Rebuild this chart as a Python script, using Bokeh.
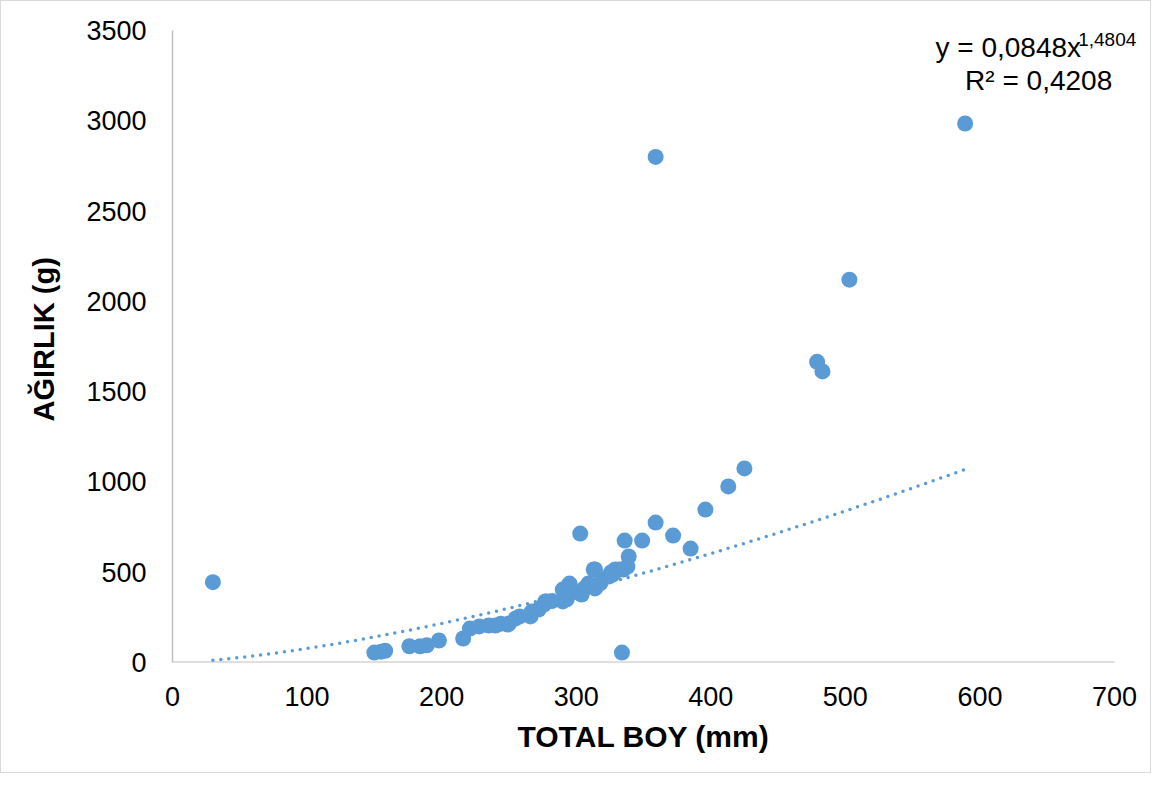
import numpy as np
from bokeh.plotting import figure
from bokeh.models import Label, FixedTicker, Range1d, Title
from bokeh.embed import file_html
from bokeh.resources import INLINE

# Data: total length (mm) and weight (g)
total_boy = [30, 150, 155, 158, 176, 184, 189, 198, 216, 221, 228, 235, 240, 244, 249,
             250, 255, 258, 266, 267, 272, 276, 277, 278, 282, 290, 290, 291, 293, 295,
             295, 298, 303, 304, 304, 306, 309, 313, 314, 314, 318, 319, 324, 326, 327,
             329, 332, 334, 335, 336, 338, 339, 349, 359, 359, 372, 385, 396, 413, 425,
             479, 483, 503, 589]
agirlik = [445, 55, 60, 65, 90, 90, 95, 122, 133, 188, 200, 205, 205, 215, 210,
           216, 244, 255, 255, 282, 293, 320, 338, 338, 340, 338, 404, 404, 350, 437,
           432, 390, 714, 376, 382, 410, 437, 515, 410, 515, 440, 460, 476, 500, 487,
           515, 515, 55, 515, 675, 531, 587, 675, 775, 2800, 703, 631, 847, 975, 1075,
           1665, 1612, 2120, 2985]

# Power trendline coefficients (as printed on the chart)
coef_a = 0.0848
coef_b = 1.4804
r2 = 0.4208
x_ticks = [0, 100, 200, 300, 400, 500, 600, 700]
y_ticks = [0, 500, 1000, 1500, 2000, 2500, 3000, 3500]
x_max = 700
y_max = 3500
x_title = "TOTAL BOY (mm)"
y_title = "AĞIRLIK (g)"

BLUE = "#5B9BD5"
AXIS_GREY = "#bfbfbf"
FONT = "Liberation Sans"

p = figure(width=1151, height=773, output_backend="svg", toolbar_location=None,
           x_range=Range1d(0, 727.5), y_range=Range1d(0, y_max),
           min_border_left=170, min_border_right=1, min_border_top=29, min_border_bottom=112)
p.styles = {"border": "1px solid #d9d9d9", "box-sizing": "border-box"}
p.outline_line_color = None
p.xgrid.visible = False
p.ygrid.visible = False

for ax in (p.xaxis[0], p.yaxis[0]):
    ax.axis_line_color = AXIS_GREY
    ax.axis_line_width = 1.5
    ax.major_tick_line_color = None
    ax.minor_tick_line_color = None
    ax.major_tick_out = 0
    ax.major_tick_in = 0
    ax.minor_tick_out = 0
    ax.major_label_text_font = FONT
    ax.major_label_text_font_size = "27px"
    ax.major_label_text_color = "#000000"

p.xaxis.axis_line_color = None
p.xaxis.ticker = FixedTicker(ticks=x_ticks)
p.yaxis.ticker = FixedTicker(ticks=y_ticks)
p.xaxis.major_label_standoff = 24
p.yaxis.major_label_standoff = 26

p.add_layout(Title(text=x_title, align="left", offset=345, standoff=18,
                   text_font=FONT, text_font_size="30px", text_font_style="bold",
                   text_color="#000000"), "below")
p.add_layout(Title(text=y_title, align="left", offset=241, standoff=48,
                   text_font=FONT, text_font_size="29px", text_font_style="bold",
                   text_color="#000000"), "left")

# x axis line only up to 700
p.segment(x0=[0], y0=[0], x1=[x_max], y1=[0], line_color=AXIS_GREY, line_width=2)

# trendline
xs = np.linspace(min(total_boy), max(total_boy), 200)
ys = coef_a * xs ** coef_b
p.line(xs, ys, line_color=BLUE, line_width=3.5, line_dash="0 8", line_cap="round")

p.scatter(total_boy, agirlik, size=16, fill_color=BLUE, line_color=BLUE, line_width=0)

fmt = lambda v, d: f"{v:.{d}f}".replace(".", ",")
p.add_layout(Label(x=567, y=3405, text=f"y = {fmt(coef_a, 4)}x", text_font=FONT,
                   text_font_size="28px", text_baseline="middle", text_align="left",
                   text_color="#000000"))
p.add_layout(Label(x=673, y=3450, text=fmt(coef_b, 4), text_font=FONT,
                   text_font_size="19px", text_baseline="middle", text_align="left",
                   text_color="#000000"))
p.add_layout(Label(x=589, y=3225, text=f"R² = {fmt(r2, 4)}", text_font=FONT,
                   text_font_size="28px", text_baseline="middle", text_align="left",
                   text_color="#000000"))

open("out.html", "w").write(file_html(p, INLINE))
